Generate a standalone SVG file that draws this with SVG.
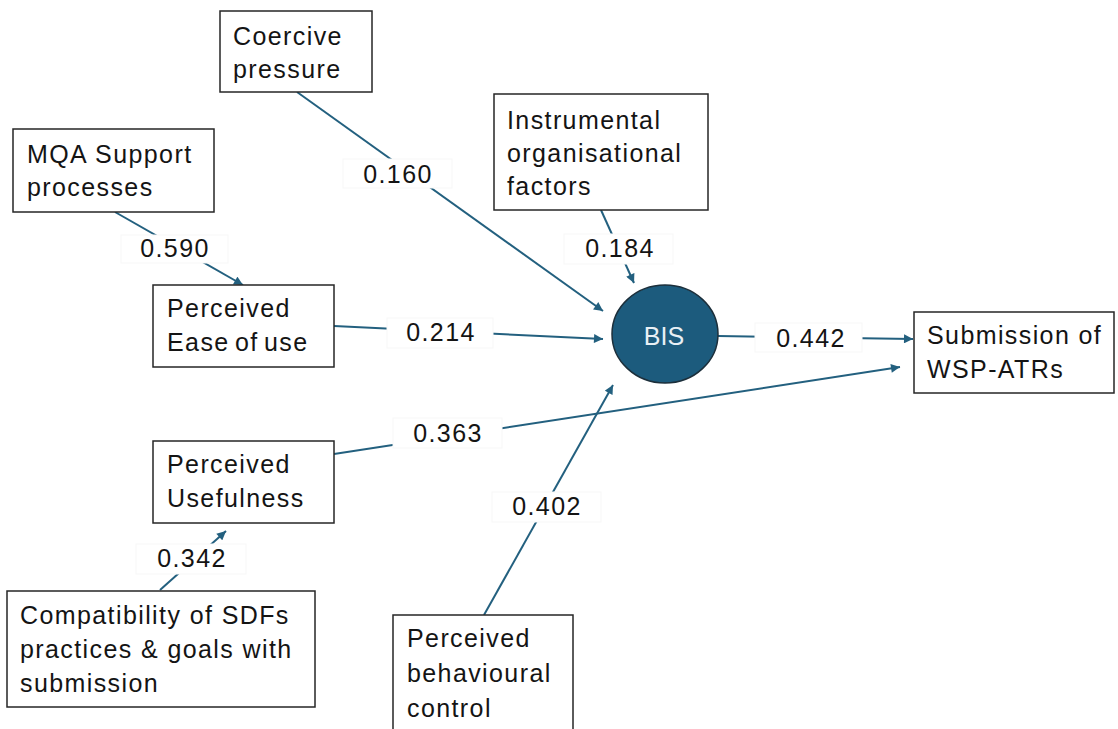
<svg xmlns="http://www.w3.org/2000/svg" width="1118" height="729" viewBox="0 0 1118 729">
  <defs>
    <marker id="arrow" viewBox="0 0 10 10" refX="10" refY="5" markerWidth="10" markerHeight="9" markerUnits="userSpaceOnUse" orient="auto">
      <path d="M0,0 L10,5 L0,10 Z" fill="#23607f"/>
    </marker>
    <style>
      .box { fill: #ffffff; stroke: #262626; stroke-width: 1.5; }
      .txt { font-family: "Liberation Sans", Arial, sans-serif; font-size: 25px; letter-spacing: 1.4px; fill: #141414; }
      .lblbox { fill: #ffffff; stroke: #f7f7f7; stroke-width: 1; }
      .lbl { font-family: "Liberation Sans", Arial, sans-serif; font-size: 25px; letter-spacing: 1.4px; fill: #141414; text-anchor: middle; }
      .edge { fill: none; stroke: #23607f; stroke-width: 2; marker-end: url(#arrow); }
      .bis { fill: #1c5b7d; stroke: #1c2f3b; stroke-width: 1.5; }
      .bistxt { font-family: "Liberation Sans", Arial, sans-serif; font-size: 25px; fill: #e8f0f5; text-anchor: middle; }
    </style>
  </defs>

  <rect width="1118" height="729" fill="#ffffff"/>

  <!-- connectors -->
  <g id="connectors">
    <line class="edge" x1="297" y1="92" x2="603" y2="311"/>
    <line class="edge" x1="115" y1="212" x2="243" y2="285"/>
    <line class="edge" x1="601" y1="210" x2="634" y2="283"/>
    <line class="edge" x1="334" y1="326" x2="603" y2="339"/>
    <line class="edge" x1="718" y1="336" x2="913" y2="339"/>
    <line class="edge" x1="334" y1="454" x2="900" y2="367"/>
    <line class="edge" x1="484" y1="615" x2="613" y2="385"/>
    <line class="edge" x1="160" y1="590" x2="226" y2="531"/>
  </g>

  <!-- path coefficient labels -->
  <g id="labels">
    <g id="lbl-coercive"><rect class="lblbox" x="343" y="159" width="109" height="29"/><text class="lbl" x="398" y="183">0.160</text></g>
    <g id="lbl-mqa"><rect class="lblbox" x="121" y="235" width="107" height="28"/><text class="lbl" x="175" y="257">0.590</text></g>
    <g id="lbl-instrumental"><rect class="lblbox" x="564" y="234" width="109" height="30"/><text class="lbl" x="620" y="257">0.184</text></g>
    <g id="lbl-ease"><rect class="lblbox" x="387" y="318" width="106" height="30"/><text class="lbl" x="441" y="341">0.214</text></g>
    <g id="lbl-bis"><rect class="lblbox" x="755" y="323" width="107" height="29"/><text class="lbl" x="811" y="347">0.442</text></g>
    <g id="lbl-useful"><rect class="lblbox" x="393" y="418" width="109" height="30"/><text class="lbl" x="448" y="442">0.363</text></g>
    <g id="lbl-pbc"><rect class="lblbox" x="492" y="492" width="109" height="30"/><text class="lbl" x="547" y="515">0.402</text></g>
    <g id="lbl-compat"><rect class="lblbox" x="136" y="544" width="110" height="30"/><text class="lbl" x="192" y="567">0.342</text></g>
  </g>

  <!-- nodes -->
  <g id="coercive-pressure">
    <rect class="box" x="220" y="11" width="152" height="81"/>
    <text class="txt" x="233" y="45">Coercive</text>
    <text class="txt" x="233" y="78">pressure</text>
  </g>

  <g id="mqa-support">
    <rect class="box" x="13" y="129" width="201" height="83"/>
    <text class="txt" x="27" y="163">MQA Support</text>
    <text class="txt" x="27" y="196">processes</text>
  </g>

  <g id="instrumental-factors">
    <rect class="box" x="494" y="94" width="214" height="116"/>
    <text class="txt" x="507" y="129">Instrumental</text>
    <text class="txt" x="507" y="162">organisational</text>
    <text class="txt" x="507" y="195">factors</text>
  </g>

  <g id="perceived-ease">
    <rect class="box" x="153" y="285" width="181" height="82"/>
    <text class="txt" x="167" y="317">Perceived</text>
    <text class="txt" x="167" y="351" word-spacing="-3">Ease of use</text>
  </g>

  <g id="bis">
    <ellipse class="bis" cx="665" cy="334" rx="53" ry="49"/>
    <text class="bistxt" x="664" y="345">BIS</text>
  </g>

  <g id="submission">
    <rect class="box" x="914" y="312" width="200" height="81"/>
    <text class="txt" x="927" y="344">Submission of</text>
    <text class="txt" x="927" y="378">WSP-ATRs</text>
  </g>

  <g id="perceived-usefulness">
    <rect class="box" x="153" y="441" width="181" height="82"/>
    <text class="txt" x="167" y="473">Perceived</text>
    <text class="txt" x="167" y="507">Usefulness</text>
  </g>

  <g id="compatibility">
    <rect class="box" x="7" y="591" width="308" height="116"/>
    <text class="txt" x="20" y="624">Compatibility of SDFs</text>
    <text class="txt" x="20" y="658">practices &amp; goals with</text>
    <text class="txt" x="20" y="692">submission</text>
  </g>

  <g id="perceived-behavioural-control">
    <rect class="box" x="393" y="615" width="180" height="125"/>
    <text class="txt" x="407" y="647">Perceived</text>
    <text class="txt" x="407" y="682">behavioural</text>
    <text class="txt" x="407" y="717">control</text>
  </g>
</svg>
